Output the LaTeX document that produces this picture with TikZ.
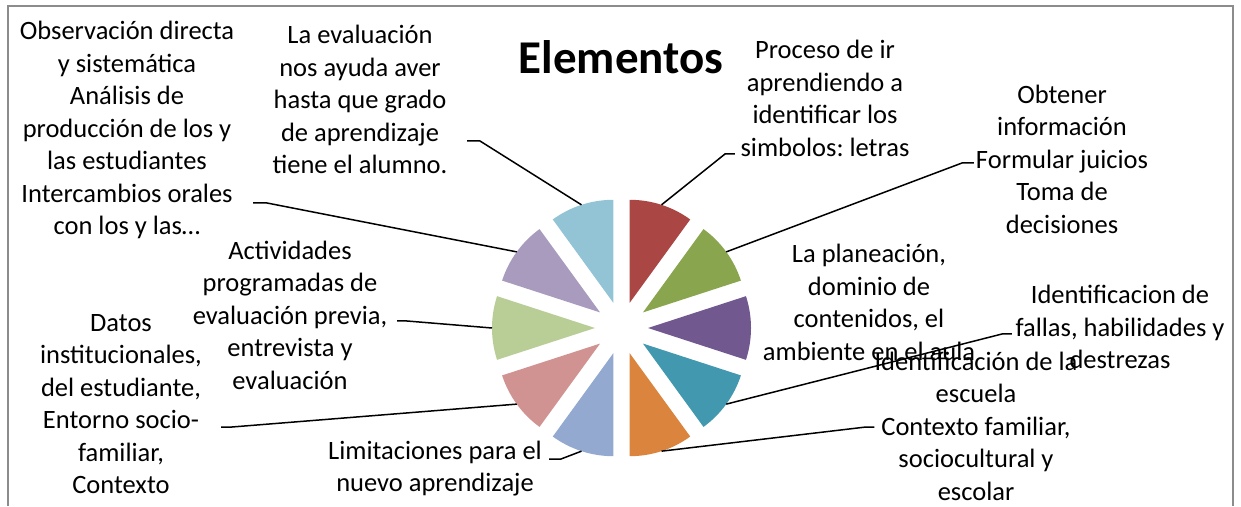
\documentclass[tikz,border=0pt]{standalone}
\usepackage{fontspec}
\setmainfont{Carlito}
\usetikzlibrary{calc}
\frenchspacing
\definecolor{frame}{RGB}{140,140,140}
\definecolor{sRed}{RGB}{170,70,67}
\definecolor{sGreen}{RGB}{137,165,78}
\definecolor{sPurple}{RGB}{113,88,143}
\definecolor{sTeal}{RGB}{65,152,175}
\definecolor{sOrange}{RGB}{219,132,61}
\definecolor{sBlue}{RGB}{147,169,207}
\definecolor{sPink}{RGB}{209,147,146}
\definecolor{sLime}{RGB}{185,205,150}
\definecolor{sLav}{RGB}{169,155,189}
\definecolor{sSky}{RGB}{146,196,214}

\begin{document}
\begin{tikzpicture}[x=1pt,y=1pt,
    lbl/.style={align=center,inner sep=0pt,font=\fontsize{26.5}{32.5}\selectfont},
    lead/.style={line width=1.5pt}]
  \useasboundingbox (0,0) rectangle (1241,506);
  \draw[frame,line width=2pt] (8,0) -- (8,500) -- (1233,500) -- (1233,0);

  \coordinate (c) at (621.5,178);
  \foreach \col [count=\i from 0] in {sRed,sGreen,sPurple,sTeal,sOrange,sBlue,sPink,sLime,sLav,sSky} {
    \pgfmathsetmacro\a{90-36*\i}
    \pgfmathsetmacro\m{\a-18}
    \fill[\col] ($(c)+(\m:26.5)$) -- ++(\a:103) arc[start angle=\a, delta angle=-36, radius=103] -- cycle;
    \coordinate (s\i) at ($(c)+(\m:129.5)$);
  }

  \node[font=\fontsize{47}{56}\selectfont\bfseries] (t) at (621,449) {Elementos};

  \node[lbl,minimum width=252pt] (l1) at (127,376) {Observación directa\\y sistemática\\Análisis de\\producción de los y\\las estudiantes\\Intercambios orales\\con los y las…};
  \node[lbl,minimum width=214pt] (l2) at (360,406.5) {La evaluación\\nos ayuda aver\\hasta que grado\\de aprendizaje\\tiene el alumno.};
  \node[lbl,minimum width=180pt] (l3) at (825,407.5) {Proceso de ir\\aprendiendo a\\identificar los\\simbolos: letras};
  \node[lbl,minimum width=176pt] (l4) at (1062,347) {Obtener\\información\\Formular juicios\\Toma de\\decisiones};
  \node[lbl] (l5) at (869,203.5) {La planeación,\\dominio de\\contenidos, el\\ambiente en el aula};
  \node[lbl,minimum width=216pt] (l6) at (1120,179) {Identificacion de\\fallas, habilidades y\\destrezas};
  \node[lbl,minimum width=200pt] (l7) at (976,80) {Identificación de la\\escuela\\Contexto familiar,\\sociocultural y\\escolar};
  \node[lbl,minimum width=228pt] (l8) at (435,37.5) {Limitaciones para el\\nuevo aprendizaje};
  \node[lbl,minimum width=200pt] (l9) at (121,102) {Datos\\institucionales,\\del estudiante,\\Entorno socio-\\familiar,\\Contexto};
  \node[lbl,minimum width=214pt] (l10) at (290,191) {Actividades\\programadas de\\evaluación previa,\\entrevista y\\evaluación};

  \coordinate (k0) at (725,352);
  \coordinate (k1) at (962,343);
  \coordinate (k3) at (1002,172);
  \coordinate (k4) at (866,79);
  \coordinate (k5) at (561,47);
  \coordinate (k6) at (232,79);
  \coordinate (k7) at (407,185);
  \coordinate (k8) at (267,303);
  \coordinate (k9) at (480,365);

  \draw[lead] (s0) -- (k0) -- (k0 -| l3.west);
  \draw[lead] (s1) -- (k1) -- (k1 -| l4.west);
  \draw[lead] (s3) -- (k3) -- (k3 -| l6.west);
  \draw[lead] (s4) -- (k4) -- (k4 -| l7.west);
  \draw[lead] (s5) -- (k5) -- (k5 -| l8.east);
  \draw[lead] (s6) -- (k6) -- (k6 -| l9.east);
  \draw[lead] (s7) -- (k7) -- (k7 -| l10.east);
  \draw[lead] (s8) -- (k8) -- (k8 -| l1.east);
  \draw[lead] (s9) -- (k9) -- (k9 -| l2.east);
\end{tikzpicture}
\end{document}
